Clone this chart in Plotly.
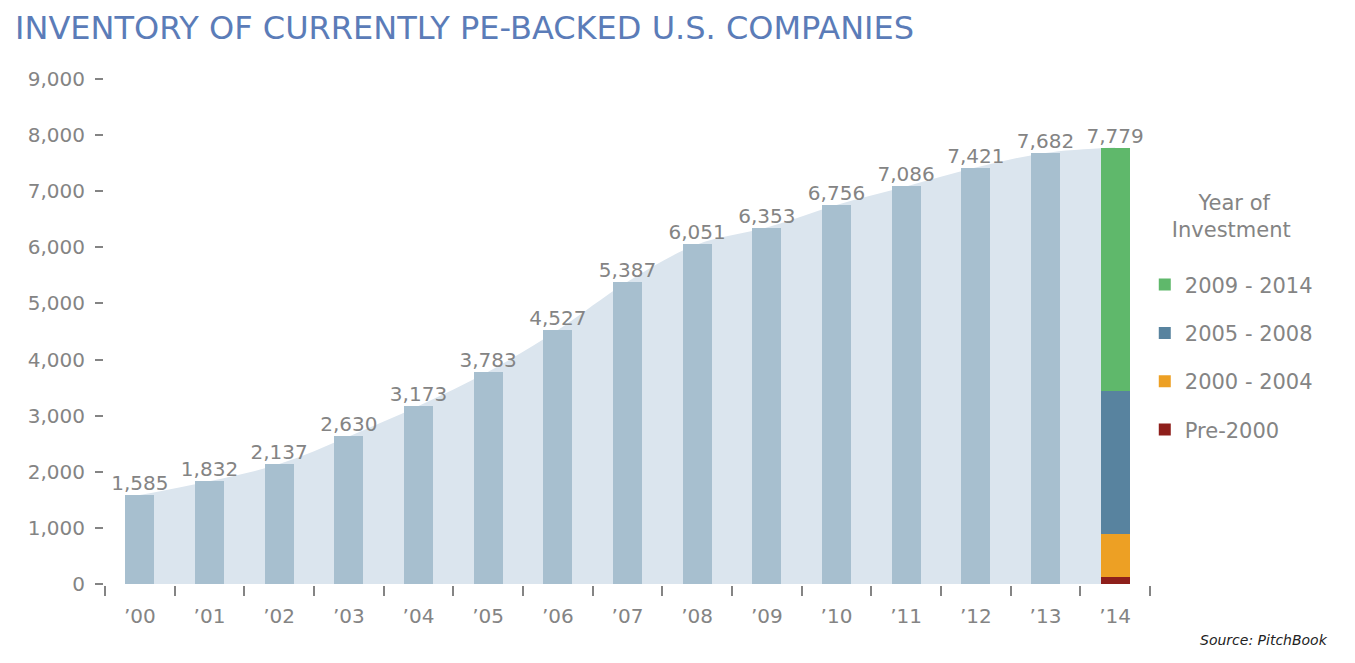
import plotly.graph_objects as go

years = ["’00", "’01", "’02", "’03", "’04", "’05", "’06", "’07",
         "’08", "’09", "’10", "’11", "’12", "’13", "’14"]
totals = [1585, 1832, 2137, 2630, 3173, 3783, 4527, 5387,
          6051, 6353, 6756, 7086, 7421, 7682, 7779]

# 2014 split by year of investment
vintage_labels = ["Pre-2000", "2000 - 2004", "2005 - 2008", "2009 - 2014"]
vintage_values = [130, 761, 2555, 4333]
vintage_colors = ["#8e1f1b", "#eda024", "#58839f", "#5fb86b"]

grey = "#848484"
font = "DejaVu Sans"

fig = go.Figure()

# soft area behind the bars
fig.add_trace(go.Scatter(
    x=years, y=totals, mode="lines", line=dict(shape="spline", width=0, color="#dbe5ee"),
    fill="tozeroy", fillcolor="#dbe5ee", showlegend=False, hoverinfo="skip", zorder=-1))

fig.add_trace(go.Bar(
    x=years[:-1], y=totals[:-1], marker=dict(color="#a7bfcf", line=dict(width=0)),
    width=0.42, showlegend=False))

for i, (lab, val, col) in enumerate(zip(vintage_labels, vintage_values, vintage_colors)):
    fig.add_trace(go.Bar(
        x=[years[-1]], y=[val], name=lab, marker=dict(color=col, line=dict(width=0)),
        width=0.42, legendgroup=lab, legendrank=len(vintage_labels) - i))

fig.add_trace(go.Scatter(
    x=years, y=totals, mode="text", text=[f"{v:,}" for v in totals],
    textposition="top center", textfont=dict(size=20, color=grey, family=font),
    showlegend=False, hoverinfo="skip", cliponaxis=False))

# page body has an 8px margin, margins below are shifted to compensate
fig.update_layout(
    width=1355, height=663,
    barmode="stack",
    plot_bgcolor="white", paper_bgcolor="white",
    margin=dict(l=97, r=213, t=71, b=87, autoexpand=False),
    font=dict(family=font, color=grey, size=20),
    title=dict(text="INVENTORY OF CURRENTLY PE-BACKED U.S. COMPANIES",
               x=7 / 1355, xref="container", xanchor="left", y=0.97, yanchor="middle",
               font=dict(size=32, color="#5b7cb8", family=font)),
    legend=dict(
        title=dict(text="\u00a0\u00a0\u00a0\u00a0Year of<br>Investment<br> ", side="top center",
                   font=dict(size=21, color=grey)),
        traceorder="grouped", tracegroupgap=18,
        font=dict(size=21, color=grey),
        x=0.995, xanchor="left", y=0.795, yanchor="top",
        itemwidth=30),
    annotations=[dict(text="<i>Source: PitchBook</i>", xref="paper", yref="paper",
                      x=1.172, y=-0.11, xanchor="right", yanchor="middle", showarrow=False,
                      font=dict(size=14, color="#222", family=font))],
)

fig.update_xaxes(
    type="category", range=[-0.5, 14.5], showline=True, linecolor=grey, linewidth=2,
    ticks="outside", tickson="boundaries", ticklen=10, tickcolor=grey, tickwidth=2,
    showgrid=False, tickfont=dict(size=20, color=grey), ticklabelstandoff=13,
    automargin=False)
fig.update_yaxes(
    range=[0, 9000], dtick=1000, tickformat=",", showline=True, linecolor=grey,
    linewidth=2, ticks="outside", ticklen=8, tickcolor=grey, tickwidth=2,
    showgrid=False, zeroline=False, tickfont=dict(size=20, color=grey),
    ticklabelstandoff=6, automargin=False)

fig.write_html("out.html")
